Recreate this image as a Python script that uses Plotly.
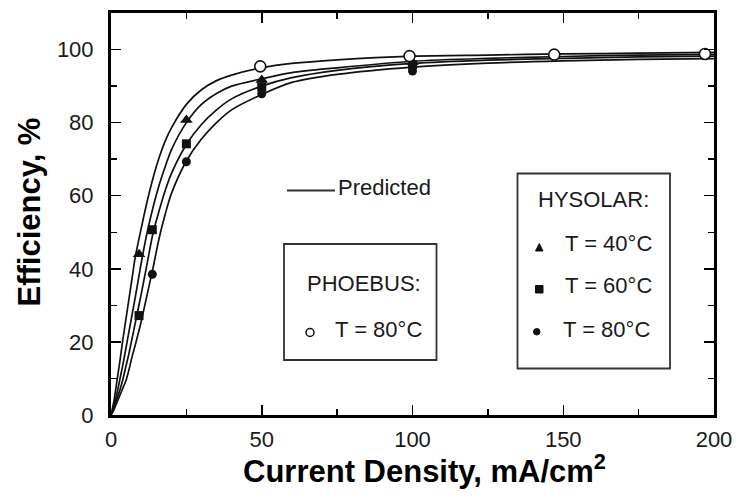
import plotly.graph_objects as go

# ---------------- data ----------------
curve_x = [0, 1, 2, 3, 4, 5, 6, 7, 8, 10, 12, 14, 16, 18, 20, 25, 30, 35, 40,
           50, 60, 75, 100, 125, 150, 175, 200]
pred_phoebus_80 = [0, 4, 9.5, 15, 21, 26.5, 32, 37.5, 43, 51, 58.5, 65, 70.5, 75,
                   78.5, 85, 89, 91.5, 93, 95, 96.2, 97.2, 98.2, 98.5, 98.8, 99, 99.2]
pred_hysolar_40 = [0, 2.5, 6, 10, 14, 18.5, 23, 27.5, 32, 41.5, 50, 57, 63, 68,
                   72.5, 80, 85, 88, 90, 92, 93.7, 95, 96.8, 97.6, 98.1, 98.5, 98.7]
pred_hysolar_60 = [0, 2, 4.5, 7, 10, 13.5, 17, 21, 25, 33, 41.5, 50, 56, 61.5,
                   66, 74, 79.5, 83.5, 86.5, 90, 92.3, 94.3, 96.2, 97.1, 97.6, 98, 98.2]
pred_hysolar_80 = [0, 1.5, 3.5, 5.5, 7.5, 9.5, 12.5, 16, 19, 25.5, 33, 40.5, 48.5,
                   55, 60.5, 69.5, 75.5, 80, 83.5, 87.7, 91, 93.2, 95.2, 96.3, 96.9, 97.3, 97.5]

phoebus_80_x = [49.5, 99, 147, 197]
phoebus_80_y = [95.4, 98.2, 98.6, 98.8]
hysolar_40_x = [9.3, 25, 50, 100]
hysolar_40_y = [44, 80.7, 91.7, 96.5]
hysolar_60_x = [9.3, 13.7, 25, 50, 100]
hysolar_60_y = [27.2, 50.7, 74.2, 89.8, 95.8]
hysolar_80_x = [13.7, 25, 50, 100]
hysolar_80_y = [38.5, 69.3, 87.9, 94.1]

x_ticks = [0, 50, 100, 150, 200]
y_ticks = [0, 20, 40, 60, 80, 100]

# ---------------- layout helpers ----------------
W, H = 740, 502
L, R, T, B = 111, 26, 13, 87
PW, PH = W - L - R, H - T - B
FONT = "Liberation Sans, Arial, Helvetica, sans-serif"
INK = "#1a1a1a"


def px(xp):
    return (xp - L) / PW


def py(yp):
    return (H - B - yp) / PH


fig = go.Figure()

for ys in [pred_phoebus_80, pred_hysolar_40, pred_hysolar_60, pred_hysolar_80]:
    fig.add_trace(go.Scatter(x=curve_x, y=ys, mode="lines",
                             line=dict(color="#111", width=1.7, shape="spline", smoothing=0.8),
                             hoverinfo="skip", showlegend=False))

fig.add_trace(go.Scatter(x=hysolar_40_x, y=hysolar_40_y, mode="markers",
                         marker=dict(symbol="triangle-up", size=11, color="#111"),
                         name="HYSOLAR T = 40°C", showlegend=False))
fig.add_trace(go.Scatter(x=hysolar_60_x, y=hysolar_60_y, mode="markers",
                         marker=dict(symbol="square", size=9, color="#111"),
                         name="HYSOLAR T = 60°C", showlegend=False))
fig.add_trace(go.Scatter(x=hysolar_80_x, y=hysolar_80_y, mode="markers",
                         marker=dict(symbol="circle", size=9, color="#111"),
                         name="HYSOLAR T = 80°C", showlegend=False))
fig.add_trace(go.Scatter(x=phoebus_80_x, y=phoebus_80_y, mode="markers",
                         marker=dict(symbol="circle", size=11, color="white",
                                     line=dict(color="#111", width=1.6)),
                         name="PHOEBUS T = 80°C", showlegend=False))

axis_common = dict(
    showgrid=False, zeroline=False, showline=True, linewidth=3, linecolor="#000",
    mirror="ticks", ticks="inside", ticklen=10, tickwidth=1.5, tickcolor="#000",
    tickfont=dict(family=FONT, size=22, color=INK), automargin=False,
)

fig.update_xaxes(range=[0, 200], tickvals=x_ticks, ticktext=[str(v) for v in x_ticks],
                 minor=dict(dtick=25, ticks="inside", ticklen=6, tickwidth=1.5, tickcolor="#000"),
                 ticklabelstandoff=3, **axis_common)
fig.update_yaxes(range=[0, 110], tickvals=y_ticks, ticktext=[str(v) for v in y_ticks],
                 minor=dict(dtick=10, ticks="inside", ticklen=6, tickwidth=1.5, tickcolor="#000"),
                 ticklabelstandoff=10, **axis_common)

shapes = []
# "Predicted" line sample
shapes.append(dict(type="line", xref="paper", yref="paper",
                   x0=px(287), x1=px(335), y0=py(190.5), y1=py(190.5),
                   line=dict(color="#333", width=2)))
# legend boxes
shapes.append(dict(type="rect", xref="paper", yref="paper",
                   x0=px(284), x1=px(436.5), y0=py(360), y1=py(244),
                   line=dict(color="#333", width=1.8)))
shapes.append(dict(type="rect", xref="paper", yref="paper",
                   x0=px(517.5), x1=px(670), y0=py(368.5), y1=py(173.5),
                   line=dict(color="#333", width=1.8)))
# legend symbols
shapes.append(dict(type="circle", xref="paper", yref="paper",
                   x0=px(306), x1=px(314), y0=py(336.5), y1=py(328.5),
                   line=dict(color="#111", width=1.5), fillcolor="white"))
shapes.append(dict(type="path", xref="paper", yref="paper",
                   path=f"M {px(535.5)},{py(251)} L {px(543)},{py(251)} L {px(539.3)},{py(243.5)} Z",
                   line=dict(color="#111", width=1), fillcolor="#111"))
shapes.append(dict(type="rect", xref="paper", yref="paper",
                   x0=px(535.5), x1=px(543), y0=py(293), y1=py(285.5),
                   line=dict(color="#111", width=1), fillcolor="#111"))
shapes.append(dict(type="circle", xref="paper", yref="paper",
                   x0=px(533.5), x1=px(540), y0=py(335), y1=py(328.5),
                   line=dict(color="#111", width=1), fillcolor="#111"))

ann_font = dict(family=FONT, size=22, color=INK)
title_font = dict(family=FONT, size=31, color="#000", weight="bold")
annotations = [
    dict(text="Predicted", x=px(336), y=py(187), xanchor="left", font=ann_font),
    dict(text="PHOEBUS:", x=px(364), y=py(283), xanchor="center", font=ann_font),
    dict(text="T = 80°C", x=px(333), y=py(329), xanchor="left", font=ann_font),
    dict(text="HYSOLAR:", x=px(593.5), y=py(199.5), xanchor="center", font=ann_font),
    dict(text="T = 40°C", x=px(563), y=py(243.5), xanchor="left", font=ann_font),
    dict(text="T = 60°C", x=px(563), y=py(285.5), xanchor="left", font=ann_font),
    dict(text="T = 80°C", x=px(561), y=py(329), xanchor="left", font=ann_font),
    dict(text="Current Density, mA/cm<sup>2</sup>", x=px(424), y=py(469),
         xanchor="center", font=title_font),
    dict(text="Efficiency, %", x=px(28.5), y=py(212), xanchor="center",
         textangle=-90, font=title_font),
]
for a in annotations:
    a.update(xref="paper", yref="paper", yanchor="middle", showarrow=False)

fig.update_layout(
    template="none",
    width=W, height=H,
    margin=dict(l=L, r=R, t=T, b=B, pad=0),
    paper_bgcolor="white", plot_bgcolor="white",
    shapes=shapes, annotations=annotations, showlegend=False,
)

fig.write_html(
    "out.html",
    config={"displayModeBar": False, "staticPlot": True},
    post_script="document.body.style.margin='0px';document.body.style.padding='0px';"
                "document.body.style.overflow='hidden';",
)
